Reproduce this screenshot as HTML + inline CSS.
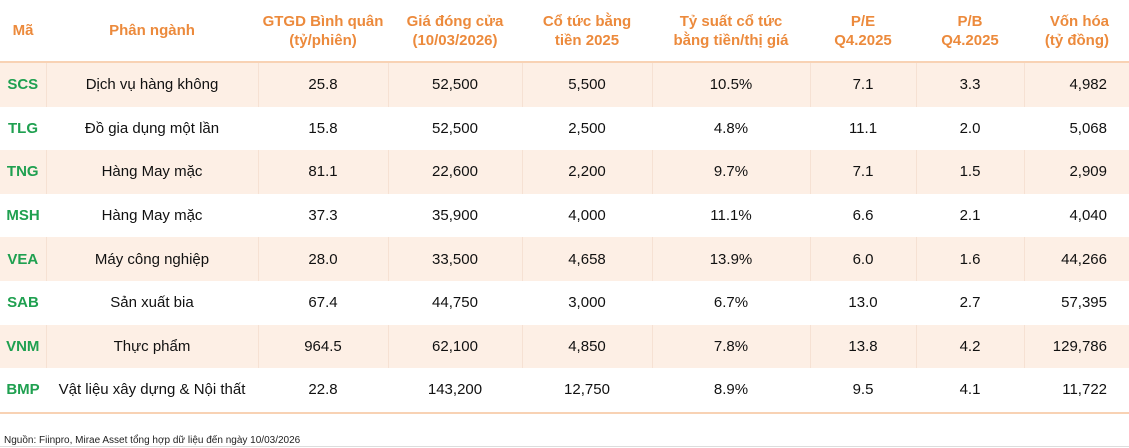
<!DOCTYPE html>
<html><head><meta charset="utf-8"><style>
body{margin:0;width:1129px;height:448px;background:#fff;font-family:"Liberation Sans",sans-serif;position:relative;overflow:hidden}
table{position:absolute;left:0;top:0;width:1129px;border-collapse:collapse;table-layout:fixed}
th{height:61px;color:#ec8a3c;font-weight:bold;font-size:15px;line-height:19px;text-align:center;border-bottom:2px solid #f8d2b4;padding:0}
td{height:43.6px;font-size:15px;color:#111;text-align:center;padding:0}
tr.s td{background:#fdefe5;border-left:1px solid #f6e1d3}
tr.s td:first-child{border-left:none}
td.m{color:#1fa050;font-weight:bold}
td.r{text-align:right;padding-right:22px}
tr.last td{border-bottom:2px solid #f8d2b4}
.note{position:absolute;left:4px;top:435px;font-size:10px;color:#222}
.bl{position:absolute;left:0;top:446px;width:1129px;height:1px;background:#ddd}
</style></head><body>
<table>
<colgroup><col style="width:46px"><col style="width:212px"><col style="width:130px"><col style="width:134px"><col style="width:130px"><col style="width:158px"><col style="width:106px"><col style="width:108px"><col style="width:105px"></colgroup>
<tr><th>Mã</th><th>Phân ngành</th><th>GTGD Bình quân<br>(tỷ/phiên)</th><th>Giá đóng cửa<br>(10/03/2026)</th><th>Cổ tức bằng<br>tiền 2025</th><th>Tỷ suất cổ tức<br>bằng tiền/thị giá</th><th>P/E<br>Q4.2025</th><th>P/B<br>Q4.2025</th><th style="text-align:right;padding-right:20px">Vốn hóa<br>(tỷ đồng)</th></tr>
<tr class="s"><td class="m">SCS</td><td>Dịch vụ hàng không</td><td>25.8</td><td>52,500</td><td>5,500</td><td>10.5%</td><td>7.1</td><td>3.3</td><td class="r">4,982</td></tr>
<tr><td class="m">TLG</td><td>Đồ gia dụng một lần</td><td>15.8</td><td>52,500</td><td>2,500</td><td>4.8%</td><td>11.1</td><td>2.0</td><td class="r">5,068</td></tr>
<tr class="s"><td class="m">TNG</td><td>Hàng May mặc</td><td>81.1</td><td>22,600</td><td>2,200</td><td>9.7%</td><td>7.1</td><td>1.5</td><td class="r">2,909</td></tr>
<tr><td class="m">MSH</td><td>Hàng May mặc</td><td>37.3</td><td>35,900</td><td>4,000</td><td>11.1%</td><td>6.6</td><td>2.1</td><td class="r">4,040</td></tr>
<tr class="s"><td class="m">VEA</td><td>Máy công nghiệp</td><td>28.0</td><td>33,500</td><td>4,658</td><td>13.9%</td><td>6.0</td><td>1.6</td><td class="r">44,266</td></tr>
<tr><td class="m">SAB</td><td>Sản xuất bia</td><td>67.4</td><td>44,750</td><td>3,000</td><td>6.7%</td><td>13.0</td><td>2.7</td><td class="r">57,395</td></tr>
<tr class="s"><td class="m">VNM</td><td>Thực phẩm</td><td>964.5</td><td>62,100</td><td>4,850</td><td>7.8%</td><td>13.8</td><td>4.2</td><td class="r">129,786</td></tr>
<tr class="last"><td class="m">BMP</td><td>Vật liệu xây dựng &amp; Nội thất</td><td>22.8</td><td>143,200</td><td>12,750</td><td>8.9%</td><td>9.5</td><td>4.1</td><td class="r">11,722</td></tr>
</table>
<div class="note">Nguồn: Fiinpro, Mirae Asset tổng hợp dữ liệu đến ngày 10/03/2026</div>
<div class="bl"></div>
</body></html>
